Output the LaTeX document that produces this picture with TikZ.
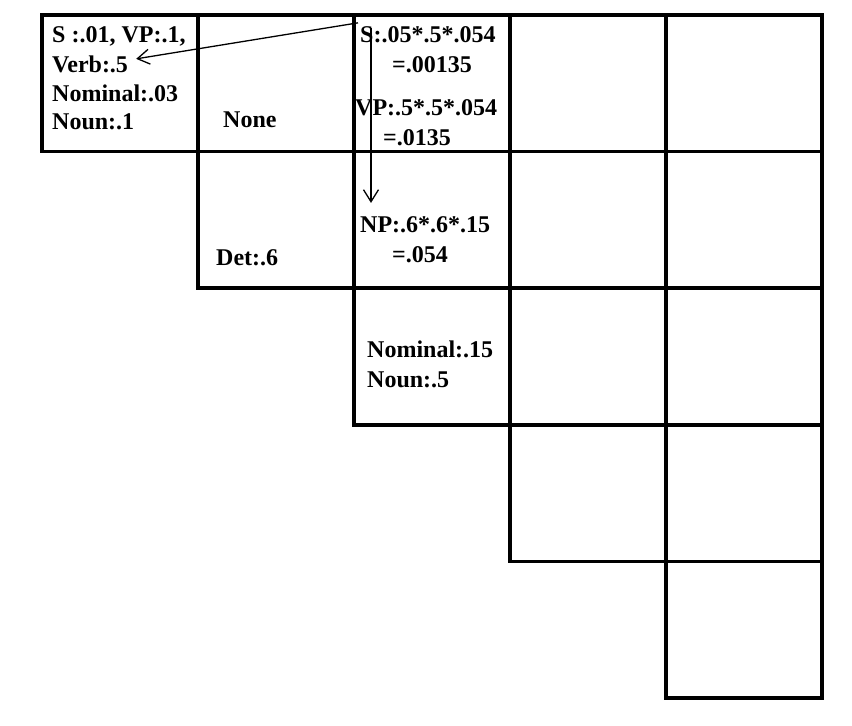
\documentclass[tikz,border=0pt]{standalone}
\usepackage{fontspec}
\setmainfont{Liberation Serif}
\usetikzlibrary{positioning, arrows.meta}

\begin{document}
\begin{tikzpicture}[
    x=1pt, y=-1pt,
    cell/.style={rectangle, draw, line width=3.5pt, minimum width=156pt,
        minimum height=136.6pt, outer sep=0pt, inner sep=0pt},
    entry/.style={font=\bfseries\fontsize{24}{29}\selectfont,
        inner sep=0pt, anchor=base west},
    link/.style={line width=1.3pt, -{Straight Barb[length=12pt, width=15pt]}}
]
\useasboundingbox (0,0) rectangle (852,726);

% Row 1
\node[cell, anchor=north west] (c11) at (42,15) {};
\node[cell, right=0pt of c11] (c12) {};
\node[cell, right=0pt of c12] (c13) {};
\node[cell, right=0pt of c13] (c14) {};
\node[cell, right=0pt of c14] (c15) {};

% Row 2
\node[cell, below=0pt of c12] (c22) {};
\node[cell, right=0pt of c22] (c23) {};
\node[cell, right=0pt of c23] (c24) {};
\node[cell, right=0pt of c24] (c25) {};

% Row 3
\node[cell, below=0pt of c23] (c33) {};
\node[cell, right=0pt of c33] (c34) {};
\node[cell, right=0pt of c34] (c35) {};

% Rows 4 and 5
\node[cell, below=0pt of c34] (c44) {};
\node[cell, right=0pt of c44] (c45) {};
\node[cell, below=0pt of c45] (c55) {};

% Cell entries
\node[entry] (s11) at (52,42) {S :.01, VP:.1,};
\node[entry] (verb11) at (52,72) {Verb:.5};
\node[entry] (nom11) at (52,101) {Nominal:.03};
\node[entry] (noun11) at (52,129) {Noun:.1};
\node[entry] (none12) at (223,127) {None};
\node[entry] (det22) at (216,265) {Det:.6};
\node[entry] (s13) at (360,42) {S:.05*.5*.054};
\node[entry] (s13v) at (392,72) {=.00135};
\node[entry] (vp13) at (355,115) {VP:.5*.5*.054};
\node[entry] (vp13v) at (383,145) {=.0135};
\node[entry] (np23) at (360,232) {NP:.6*.6*.15};
\node[entry] (np23v) at (392,262) {=.054};
\node[entry] (nom33) at (367,357) {Nominal:.15};
\node[entry] (noun33) at (367,387) {Noun:.5};

% Back pointers
\draw[link] ([shift={(-2,-3)}]s13.north west) -- ([shift={(8,-5)}]verb11.east);
\draw[link] ([shift={(11,2)}]s13.north west) -- ([shift={(11,-13)}]np23.north west);

\end{tikzpicture}
\end{document}
